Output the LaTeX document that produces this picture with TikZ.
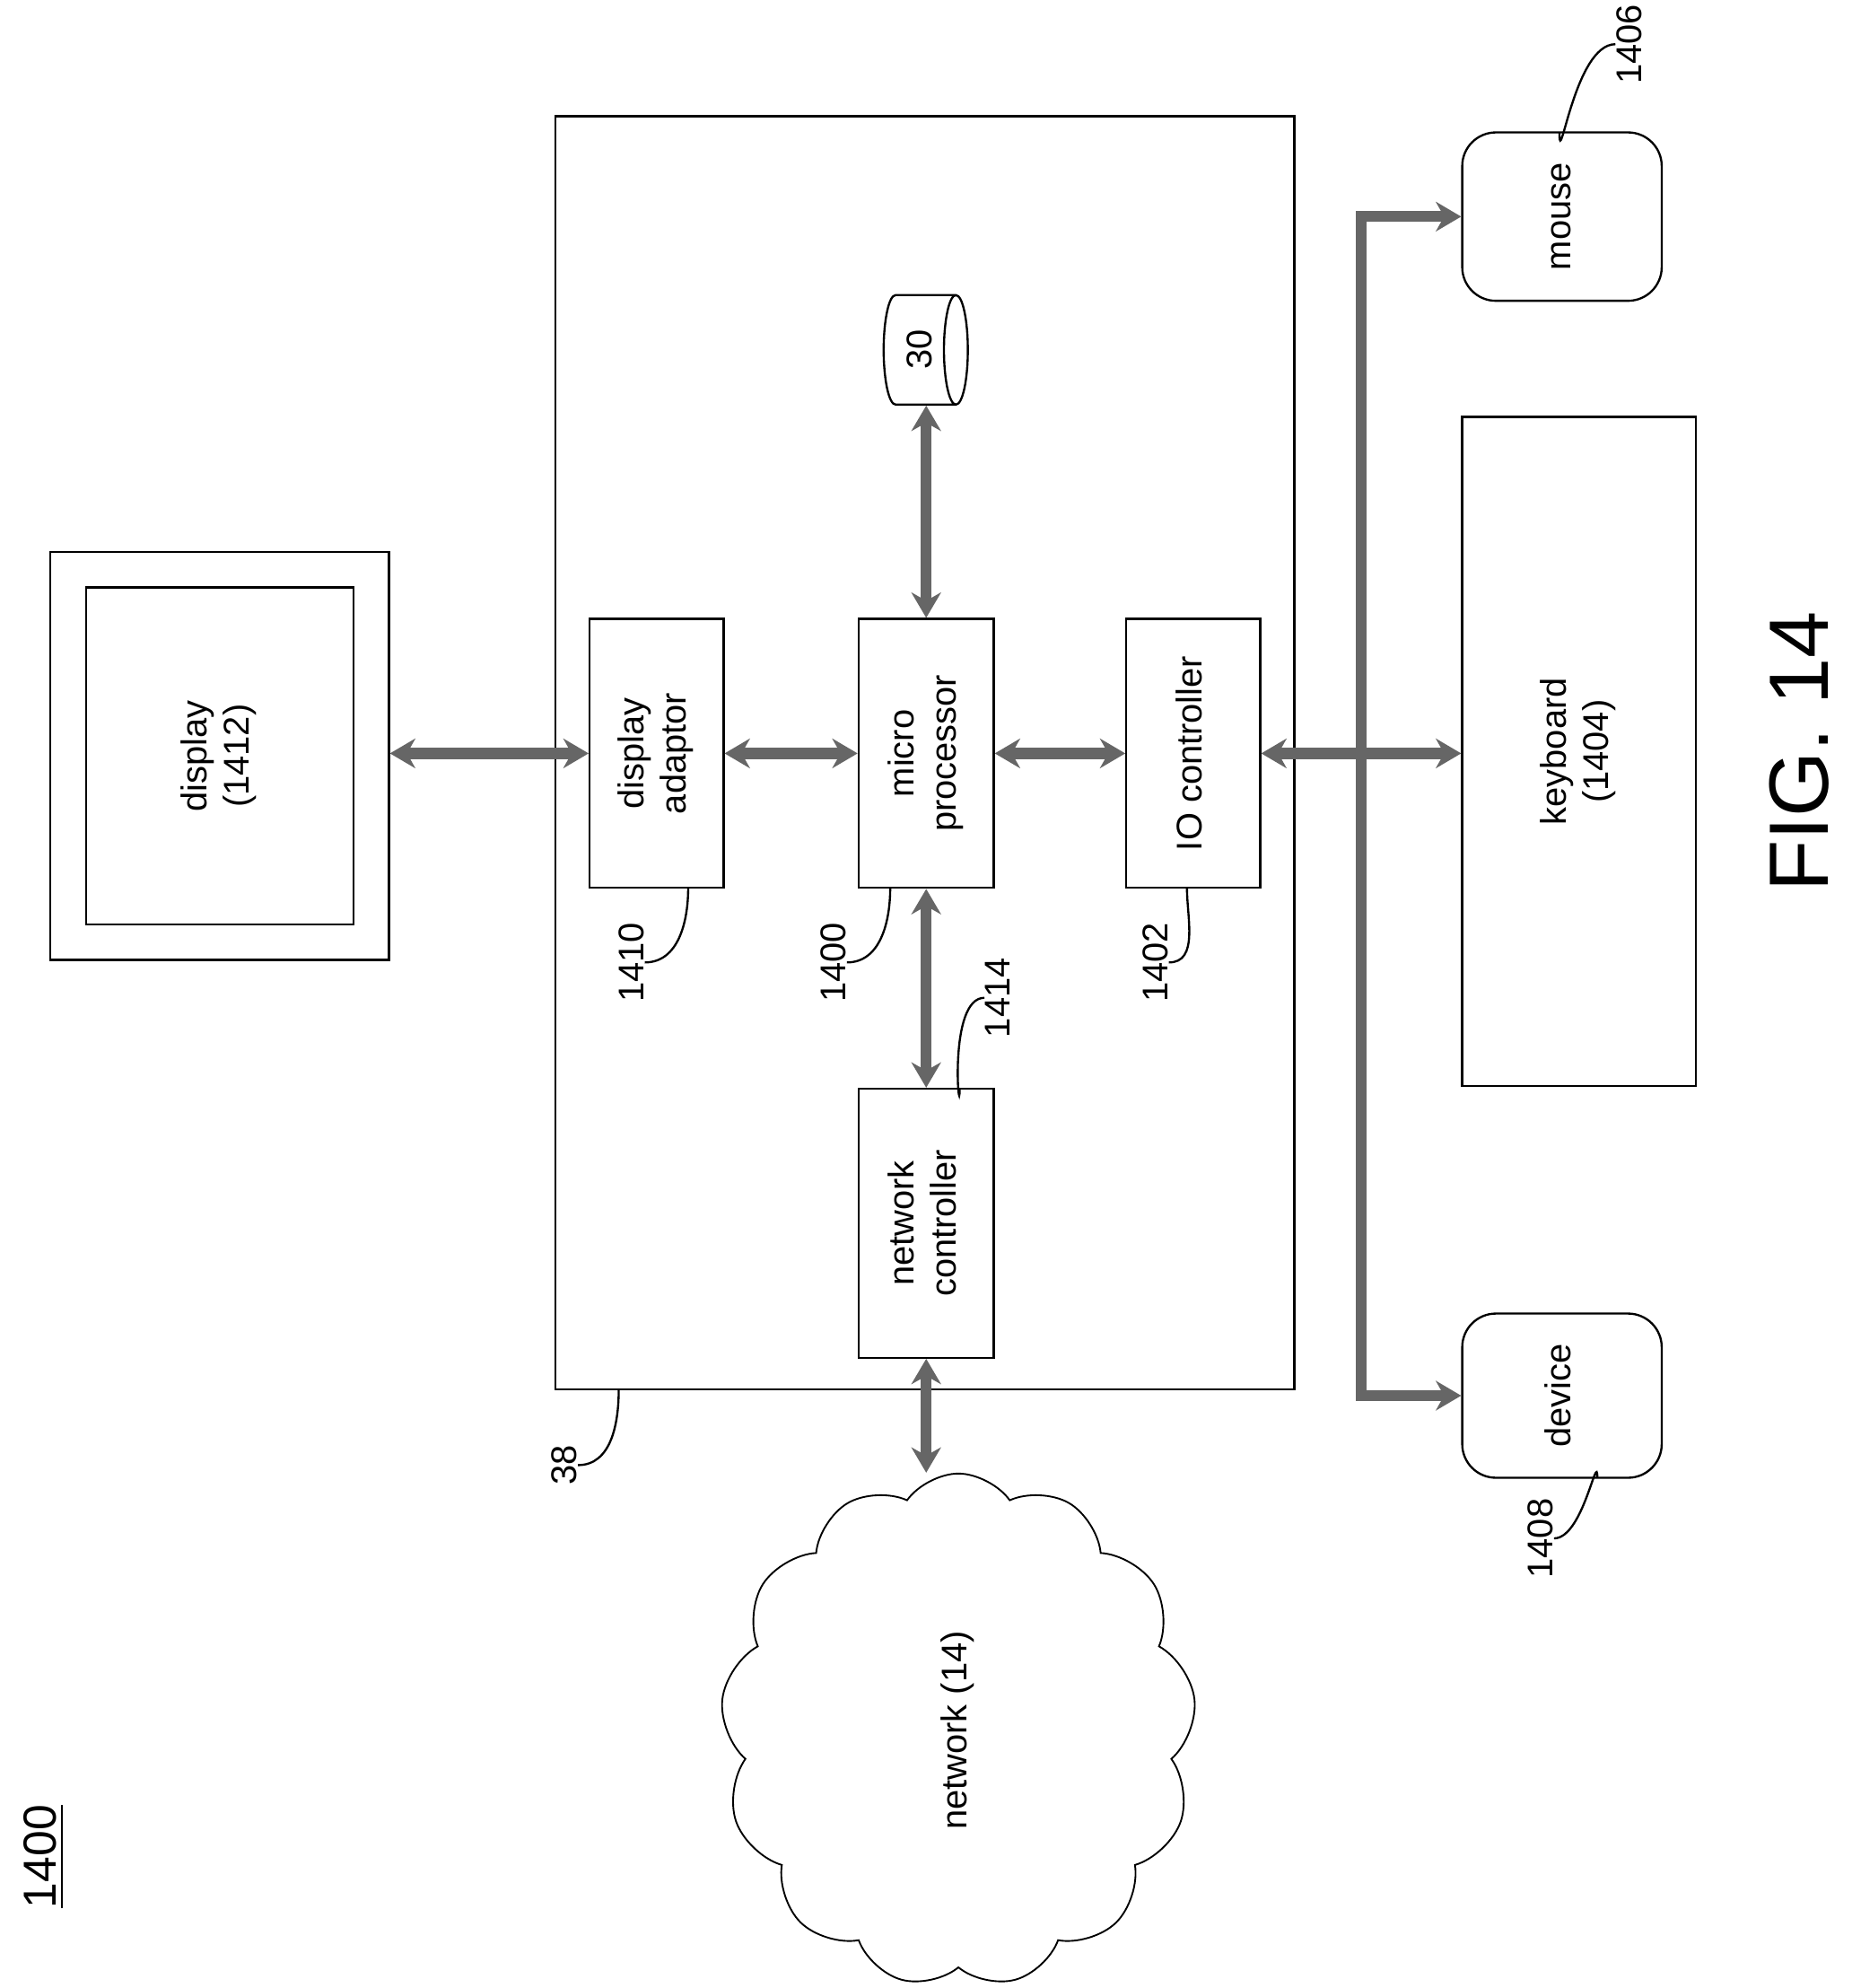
\documentclass[tikz,border=0pt]{standalone}
\usepackage{fontspec}
\setmainfont{Liberation Sans}
\usetikzlibrary{arrows.meta}
\usetikzlibrary{shapes.geometric,shapes.symbols}
\newcommand{\rot}[1]{\rotatebox{90}{\begin{tabular}{@{}c@{}}#1\end{tabular}}}
\tikzset{
  every picture/.style={font={\fontsize{8.5}{10}\selectfont}},
  every node/.style={inner sep=0pt}}

\begin{document}
\begin{tikzpicture}[x=0.3pt, y=-0.3pt,
    box/.style={draw, line width=0.5pt, minimum width=#1*0.3pt},
    bus/.style={draw=black!60, line width=2.6pt, {Stealth[length=6pt,width=7pt]}-{Stealth[length=6pt,width=7pt]}},
    lead/.style={draw, line width=0.5pt},
    num/.style={rotate=90}]

  \useasboundingbox (0,0) rectangle (1466,1574);

  % main unit and outside devices
  \node[box=585, minimum height=302.4pt] (unit) at (732.5,596) {};
  \node[box=268, minimum height=96.9pt] (display) at (174,598.5) {};
  \node[box=212, minimum height=80.1pt] (screen) at (174,598.5) {\rot{display\\(1412)}};
  \node[box=185, minimum height=159pt] (keyboard) at (1250.5,595) {\rot{keyboard\\(1404)}};
  \node[box=158, minimum height=40pt, rounded corners=8pt] (mouse) at (1237,171.5) {\rot{mouse}};
  \node[box=158, minimum height=39pt, rounded corners=8pt] (device) at (1237,1105) {\rot{device}};
  \node[draw, cloud, cloud puffs=13, cloud puff arc=110, aspect=0.9,
    minimum width=113pt, minimum height=122pt] (net) at (759,1370) {\rot{network (14)}};

  % parts inside the unit
  \node[box=106, minimum height=63.9pt] (adaptor) at (520,596.5) {\rot{display\\adaptor}};
  \node[box=107, minimum height=63.9pt] (cpu) at (733.5,596.5) {\rot{micro\\processor}};
  \node[box=106, minimum height=63.9pt] (ioctl) at (945,596.5) {\rot{IO controller}};
  \node[box=107, minimum height=63.9pt] (netctl) at (733.5,968.5) {\rot{network\\controller}};
  \node[draw, cylinder, line width=0.5pt, minimum width=26pt, minimum height=20pt,
    aspect=0.6] (disk) at (728,277) {\rotatebox{90}{30}};

  % connections
  \draw[bus] (display.east |- adaptor.west) -- (adaptor.west);
  \draw[bus] (adaptor.east) -- (cpu.west);
  \draw[bus] (cpu.east) -- (ioctl.west);
  \draw[bus] (cpu.north) -- (cpu.north |- disk.south);
  \draw[bus] (cpu.south) -- (netctl.north);
  \draw[bus] (netctl.south) -- (netctl.south |- net.north);
  \draw[bus] (ioctl.east) -- (ioctl.east -| keyboard.west);
  \coordinate (hub) at (1078,596.5);
  \draw[bus, -{Stealth[length=6pt,width=7pt]}] (hub) |- (mouse.west);
  \draw[bus, -{Stealth[length=6pt,width=7pt]}] (hub) |- (device.west);

  % reference numbers
  \node[num] (n38) at (447,1160) {38};
  \draw[lead] (490,1100) to[out=-90, in=0] (n38.south);
  \node[num] (n1410) at (500,762) {1410};
  \draw[lead] (545,703) to[out=-90, in=0] (n1410.south);
  \node[num] (n1400) at (660,762) {1400};
  \draw[lead] (705,703) to[out=-90, in=0] (n1400.south);
  \node[num] (n1402) at (915,762) {1402};
  \draw[lead] (940,703) to[out=-90, in=0] (n1402.south);
  \node[num] (n1414) at (790,790) {1414};
  \draw[lead] (760,862) to[out=-90, in=180] (n1414.north);
  \node[num] (n1406) at (1290,35) {1406};
  \draw[lead] (1235,105) to[out=-90, in=180] (n1406.north);
  \node[num] (n1408) at (1220,1218) {1408};
  \draw[lead] (1265,1170) to[out=90, in=0] (n1408.south);
  \node[num, font={\fontsize{11}{13}\selectfont}] (fig) at (35,1470) {\underline{1400}};
  \node[num, font={\fontsize{20}{24}\selectfont}] (figno) at (1425,595) {FIG. 14};
\end{tikzpicture}
\end{document}
